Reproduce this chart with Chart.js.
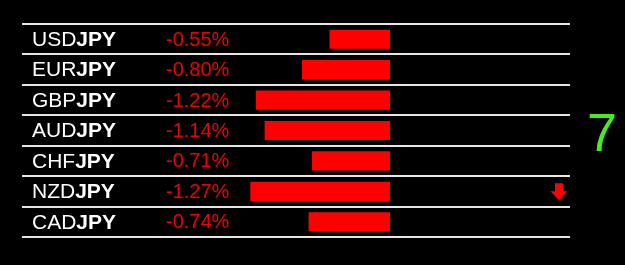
<!DOCTYPE html>
<html>
<head>
<meta charset="utf-8">
<script src="https://cdn.jsdelivr.net/npm/chart.js@4/dist/chart.umd.min.js"></script>
<style>
html,body{margin:0;padding:0;background:#000;}
#wrap{width:625px;height:265px;position:relative;}
</style>
</head>
<body>
<div id="wrap"><canvas id="c" width="625" height="265"></canvas></div>
<script>
const baseCurrencies = ['USD','EUR','GBP','AUD','CHF','NZD','CAD'];
const quoteCurrency = 'JPY';
const changes = [-0.55, -0.80, -1.22, -1.14, -0.71, -1.27, -0.74];
const arrows = [0, 0, 0, 0, 0, -1, 0];
const score = 7;

const FONT = '"Liberation Sans", Arial, sans-serif';

const overlay = {
  id: 'overlay',
  afterDatasetsDraw(chart) {
    const ctx = chart.ctx;
    const ys = chart.scales.y;
    const ca = chart.chartArea;
    ctx.save();
    ctx.textBaseline = 'middle';
    baseCurrencies.forEach((b, i) => {
      const y = ys.getPixelForValue(i) + 1;
      let x = ca.left + 10;
      ctx.font = '21px ' + FONT;
      ctx.fillStyle = '#ffffff';
      ctx.textAlign = 'left';
      ctx.fillText(b, x, y);
      x += ctx.measureText(b).width;
      ctx.font = 'bold 21px ' + FONT;
      ctx.fillText(quoteCurrency, x, y);
      ctx.font = '20px ' + FONT;
      ctx.fillStyle = '#f00000';
      ctx.fillText(changes[i].toFixed(2) + '%', ca.left + 144, y);
      if (arrows[i] !== 0) {
        const cx = ca.right - 11;
        const cy = ys.getPixelForValue(i);
        const d = arrows[i] < 0 ? 1 : -1;
        ctx.fillStyle = '#ff0000';
        ctx.beginPath();
        ctx.moveTo(cx - 4, cy - 8 * d);
        ctx.lineTo(cx + 4, cy - 8 * d);
        ctx.lineTo(cx + 4, cy);
        ctx.lineTo(cx + 8.5, cy);
        ctx.lineTo(cx, cy + 9 * d);
        ctx.lineTo(cx - 8.5, cy);
        ctx.lineTo(cx - 4, cy);
        ctx.closePath();
        ctx.fill();
      }
    });
    ctx.font = '54px ' + FONT;
    ctx.fillStyle = '#44ee1a';
    ctx.textAlign = 'center';
    ctx.textBaseline = 'alphabetic';
    ctx.fillText(String(score), ca.right + 32, (ca.top + ca.bottom) / 2 + 20);
    ctx.restore();
  }
};

new Chart(document.getElementById('c'), {
  type: 'bar',
  data: {
    labels: baseCurrencies.map(b => b + quoteCurrency),
    datasets: [{
      data: changes,
      backgroundColor: '#ff0000',
      borderWidth: 0,
      barPercentage: 0.63,
      categoryPercentage: 1
    }]
  },
  options: {
    indexAxis: 'y',
    responsive: false,
    animation: false,
    events: [],
    layout: { padding: { left: 22, right: 55, top: 24, bottom: 28 } },
    plugins: { legend: { display: false }, tooltip: { enabled: false } },
    scales: {
      x: { display: false, min: -3.345, max: 1.636 },
      y: {
        display: true,
        offset: true,
        ticks: { display: false },
        border: { display: false },
        grid: { offset: true, color: '#e6e6e6', lineWidth: 2, drawTicks: false, tickLength: 0 }
      }
    }
  },
  plugins: [overlay]
});
</script>
</body>
</html>
